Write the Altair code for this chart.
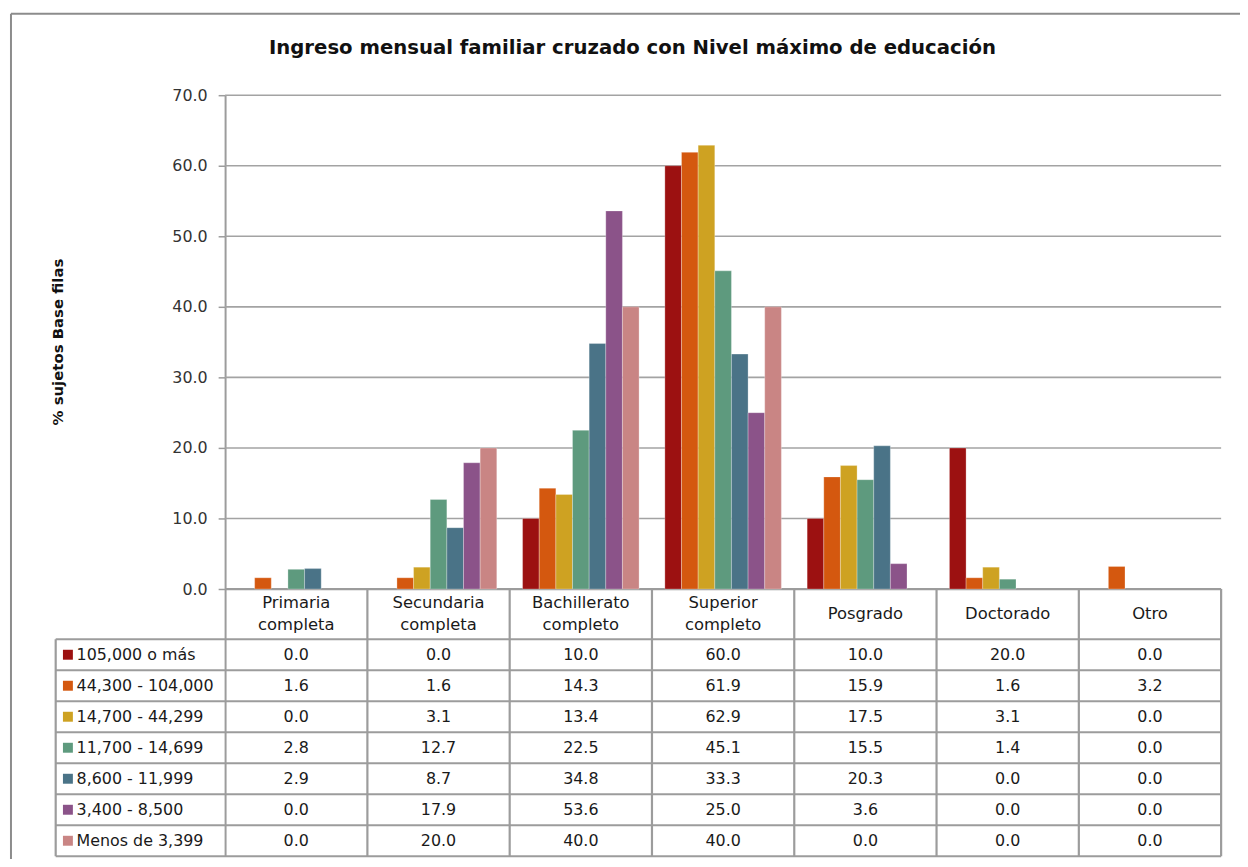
import altair as alt
import pandas as pd

# ---------------- data ----------------
categories = ["Primaria\ncompleta", "Secundaria\ncompleta", "Bachillerato\ncompleto",
              "Superior\ncompleto", "Posgrado", "Doctorado", "Otro"]
series = ["105,000 o más", "44,300 - 104,000", "14,700 - 44,299", "11,700 - 14,699",
          "8,600 - 11,999", "3,400 - 8,500", "Menos de 3,399"]
colors = ["#9c1111", "#d4580f", "#cea222", "#5e9a7e", "#4a7387", "#8b5389", "#c98584"]

v_105000 = [0.0, 0.0, 10.0, 60.0, 10.0, 20.0, 0.0]
v_44300 = [1.6, 1.6, 14.3, 61.9, 15.9, 1.6, 3.2]
v_14700 = [0.0, 3.1, 13.4, 62.9, 17.5, 3.1, 0.0]
v_11700 = [2.8, 12.7, 22.5, 45.1, 15.5, 1.4, 0.0]
v_8600 = [2.9, 8.7, 34.8, 33.3, 20.3, 0.0, 0.0]
v_3400 = [0.0, 17.9, 53.6, 25.0, 3.6, 0.0, 0.0]
v_menos = [0.0, 20.0, 40.0, 40.0, 0.0, 0.0, 0.0]
values = [v_105000, v_44300, v_14700, v_11700, v_8600, v_3400, v_menos]

y_ticks = [0, 10, 20, 30, 40, 50, 60, 70]
y_max = 70
title_text = "Ingreso mensual familiar cruzado con Nivel máximo de educación"
y_title = "% sujetos Base filas"

# ---------------- layout (pixels) ----------------
COL_W = 143.2      # width of one category column
LEG_W = 170.5      # width of legend column of the data table
BAR_W = 16.75
PLOT_H = 497.0
HEAD_H = 50.5
ROW_H = 31.2
LINE_H = 22.0      # line height of the two-line header labels
UNIT = PLOT_H / y_max          # px per y unit
n_cat = len(categories)
n_ser = len(series)

x_min = -LEG_W / COL_W
y_min = -(HEAD_H + n_ser * ROW_H) / UNIT
W = round(LEG_W + n_cat * COL_W)
H = round(PLOT_H + HEAD_H + n_ser * ROW_H)
head_u = HEAD_H / UNIT
row_u = ROW_H / UNIT

FONT = "DejaVu Sans"
LINE = "#9c9c9c"

xs = alt.Scale(domain=[x_min, n_cat], nice=False, zero=False)
ys = alt.Scale(domain=[y_min, y_max], nice=False, zero=False)
yaxis = alt.Axis(values=y_ticks, format=".1f", offset=-LEG_W, grid=False,
                 domain=True, domainColor=LINE, domainWidth=2,
                 ticks=True, tickSize=7, tickColor=LINE, tickWidth=1.5,
                 labelFont=FONT, labelFontSize=16, labelColor="#333333", labelPadding=11,
                 title=y_title, titleFont=FONT, titleFontSize=15, titleFontWeight="bold",
                 titleColor="#111111", titleAngle=270, titleAlign="center",
                 titleBaseline="middle", titleX=58 - (56 + LEG_W), titleY=341 - 93)


def X(f):
    return alt.X(f, type="quantitative", scale=xs, axis=None)


def Y(f):
    return alt.Y(f, type="quantitative", scale=ys, axis=yaxis)


# bars
rows = []
for si, s in enumerate(series):
    for ci, c in enumerate(categories):
        x0 = ci + (COL_W - n_ser * BAR_W) / 2 / COL_W + si * BAR_W / COL_W
        rows.append({"serie": s, "cat": c, "value": values[si][ci],
                     "x0": x0, "x1": x0 + BAR_W / COL_W, "base": 0.0,
                     "tx": ci + 0.5, "ty": -head_u - (si + 0.5) * row_u,
                     "label": f"{values[si][ci]:.1f}"})
df = pd.DataFrame(rows)

color_scale = alt.Scale(domain=series, range=colors)

bars = alt.Chart(df).transform_filter("datum.value > 0").mark_bar(
    stroke="#ffffff", strokeOpacity=0.35, strokeWidth=0.8
).encode(
    x=X("x0"), x2="x1", y=Y("value"), y2="base",
    color=alt.Color("serie:N", scale=color_scale, legend=None),
)

# gridlines
grid_df = pd.DataFrame({"y": [t for t in y_ticks if t > 0], "xa": 0.0, "xb": float(n_cat)})
grid = alt.Chart(grid_df).mark_rule(color="#a3a3a3", strokeWidth=1.6).encode(
    x=X("xa"), x2="xb", y=Y("y"))

# table lines
seg = []
seg.append({"xa": 0.0, "xb": float(n_cat), "ya": 0.0, "yb": 0.0})
for k in range(n_ser + 1):
    yy = -head_u - k * row_u
    seg.append({"xa": x_min, "xb": float(n_cat), "ya": yy, "yb": yy})
seg.append({"xa": x_min, "xb": x_min, "ya": -head_u, "yb": y_min})
for k in range(1, n_cat + 1):
    seg.append({"xa": float(k), "xb": float(k), "ya": 0.0, "yb": y_min})
seg_df = pd.DataFrame(seg)
table_lines = alt.Chart(seg_df).mark_rule(color=LINE, strokeWidth=2.2).encode(
    x=X("xa"), x2="xb", y=Y("ya"), y2="yb")

# table values
table_text = alt.Chart(df).mark_text(font=FONT, fontSize=16, color="#1a1a1a",
                                     align="center", baseline="middle").encode(
    x=X("tx"), y=Y("ty"), text="label:N")

# header labels (multi-line labels centred vertically in the header row)
n_lines = [c.count("\n") + 1 for c in categories]
head_df = pd.DataFrame({"cat": categories, "tx": [i + 0.5 for i in range(n_cat)],
                        "ty": [-head_u / 2 + (n - 1) * LINE_H / 2 / UNIT for n in n_lines]})
head_text = alt.Chart(head_df).transform_calculate(
    lines="split(datum.cat, '\\n')"
).mark_text(font=FONT, fontSize=16.5, color="#1a1a1a", align="center",
            baseline="middle", lineHeight=LINE_H).encode(
    x=X("tx"), y=Y("ty"), text="lines:N")

# legend column
leg_df = pd.DataFrame({"serie": series,
                       "sx": [x_min + 12.3 / COL_W] * n_ser,
                       "lx": [x_min + 21.0 / COL_W] * n_ser,
                       "ty": [-head_u - (i + 0.5) * row_u for i in range(n_ser)]})
leg_sq = alt.Chart(leg_df).mark_square(size=100, opacity=1).encode(
    x=X("sx"), y=Y("ty"),
    color=alt.Color("serie:N", scale=color_scale, legend=None))
leg_tx = alt.Chart(leg_df).mark_text(font=FONT, fontSize=16, color="#1a1a1a",
                                     align="left", baseline="middle").encode(
    x=X("lx"), y=Y("ty"), text="serie:N")

# outer chart frame (left & top edges)
one = pd.DataFrame({"k": [0]})
frame_l = alt.Chart(one).mark_rule(color="#8c8c8c", strokeWidth=2).encode(
    x=alt.value(-45), y=alt.value(-82), y2=alt.value(H + 10))
frame_t = alt.Chart(one).mark_rule(color="#8c8c8c", strokeWidth=2).encode(
    x=alt.value(-45), x2=alt.value(W + 19), y=alt.value(-82))

chart = alt.layer(
    grid, table_lines, bars, table_text, head_text, leg_sq, leg_tx, frame_l, frame_t
).properties(
    width=W, height=H,
    background="white",
    title=alt.TitleParams(text=title_text, font=FONT, fontSize=19.8, fontWeight="bold",
                          color="#111111", anchor="middle", frame="group", dx=-6,
                          baseline="alphabetic", offset=-61),
    autosize=alt.AutoSizeParams(type="none"),
    padding={"left": 48, "top": 85, "right": 19, "bottom": 0},
).configure_view(stroke=None)

chart.save("out.html", embed_options={"renderer": "svg", "actions": False})
